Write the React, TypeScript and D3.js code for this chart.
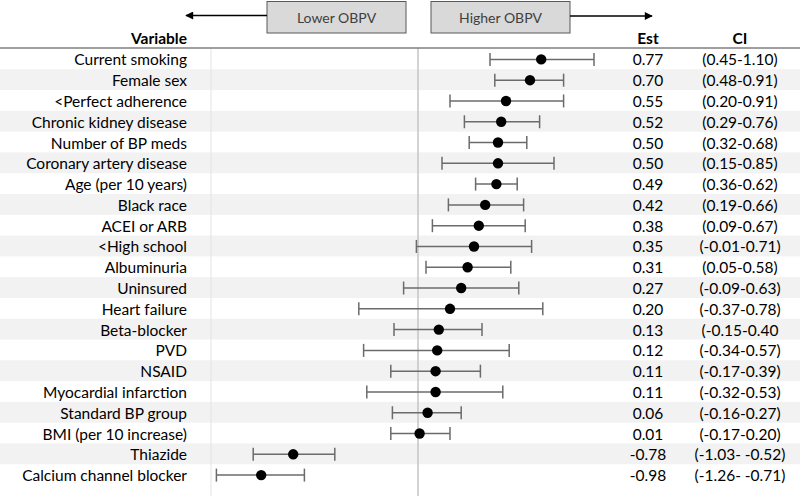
import React from "react";
import * as d3 from "d3";

const variables = [
  "Current smoking", "Female sex", "<Perfect adherence", "Chronic kidney disease",
  "Number of BP meds", "Coronary artery disease", "Age (per 10 years)", "Black race",
  "ACEI or ARB", "<High school", "Albuminuria", "Uninsured", "Heart failure",
  "Beta-blocker", "PVD", "NSAID", "Myocardial infarction", "Standard BP group",
  "BMI (per 10 increase)", "Thiazide", "Calcium channel blocker",
];
const estimates = [0.77, 0.70, 0.55, 0.52, 0.50, 0.50, 0.49, 0.42, 0.38, 0.35, 0.31, 0.27, 0.20, 0.13, 0.12, 0.11, 0.11, 0.06, 0.01, -0.78, -0.98];
const lower = [0.45, 0.48, 0.20, 0.29, 0.32, 0.15, 0.36, 0.19, 0.09, -0.01, 0.05, -0.09, -0.37, -0.15, -0.34, -0.17, -0.32, -0.16, -0.17, -1.03, -1.26];
const upper = [1.10, 0.91, 0.91, 0.76, 0.68, 0.85, 0.62, 0.66, 0.67, 0.71, 0.58, 0.63, 0.78, 0.40, 0.57, 0.39, 0.53, 0.27, 0.20, -0.52, -0.71];
const estLabels = ["0.77", "0.70", "0.55", "0.52", "0.50", "0.50", "0.49", "0.42", "0.38", "0.35", "0.31", "0.27", "0.20", "0.13", "0.12", "0.11", "0.11", "0.06", "0.01", "-0.78", "-0.98"];
const ciLabels = [
  "(0.45-1.10)", "(0.48-0.91)", "(0.20-0.91)", "(0.29-0.76)", "(0.32-0.68)", "(0.15-0.85)",
  "(0.36-0.62)", "(0.19-0.66)", "(0.09-0.67)", "(-0.01-0.71)", "(0.05-0.58)", "(-0.09-0.63)",
  "(-0.37-0.78)", "(-0.15-0.40", "(-0.34-0.57)", "(-0.17-0.39)", "(-0.32-0.53)", "(-0.16-0.27)",
  "(-0.17-0.20)", "(-1.03- -0.52)", "(-1.26- -0.71)",
];
const headers = ["Variable", "Est", "CI"];
const directionLabels = ["Lower OBPV", "Higher OBPV"];

const W = 800;
const H = 496;
const FONT = "Lato, 'Open Sans', sans-serif";
const FS = 15.5;

export default function App() {
  const x = d3.scaleLinear().domain([0, 1]).range([418, 578]);
  const y = d3.scaleBand<number>().domain(d3.range(variables.length)).range([48.5, 485]).padding(0);
  const bw = y.bandwidth();
  const capH = 6.5;
  const labelX = 187;
  const estX = 648;
  const ciX = 740;

  return (
    <svg width={W} height={H} style={{ position: "absolute", left: 0, top: 0, background: "#fff" }} fontFamily={FONT}>
      <defs>
        <marker id="ah" viewBox="0 0 10 10" refX="9" refY="5" markerWidth="9" markerHeight="8" markerUnits="userSpaceOnUse" orient="auto">
          <path d="M0,0 L10,5 L0,10 Z" fill="#000" />
        </marker>
      </defs>
      {/* row shading */}
      {variables.map((_, i) =>
        i % 2 === 1 ? <rect key={"bg" + i} x={0} y={y(i)} width={W} height={bw} fill="#f2f2f2" /> : null
      )}
      {/* dividers */}
      <line x1={211} x2={211} y1={48} y2={H} stroke="#e3e3e3" strokeWidth={1} />
      <line x1={x(0)} x2={x(0)} y1={48} y2={H} stroke="#c4c4c4" strokeWidth={1.5} />
      <line x1={0} x2={W} y1={48} y2={48} stroke="#7f7f7f" strokeWidth={1.5} />

      {/* direction boxes */}
      <rect x={267} y={1.5} width={139} height={31.5} fill="#d9d9d9" stroke="#595959" strokeWidth={1} />
      <text x={336.5} y={17.5} textAnchor="middle" dominantBaseline="central" fontSize={14} fill="#404040">{directionLabels[0]}</text>
      <line x1={267} x2={186} y1={15.5} y2={15.5} stroke="#000" strokeWidth={1.3} markerEnd="url(#ah)" />
      <rect x={431} y={1.5} width={139} height={31.5} fill="#d9d9d9" stroke="#595959" strokeWidth={1} />
      <text x={500.5} y={17.5} textAnchor="middle" dominantBaseline="central" fontSize={14} fill="#404040">{directionLabels[1]}</text>
      <line x1={570} x2={652} y1={16} y2={16} stroke="#000" strokeWidth={1.3} markerEnd="url(#ah)" />

      {/* headers */}
      <text x={labelX} y={38} textAnchor="end" dominantBaseline="central" fontSize={FS} fontWeight="bold" fill="#000">{headers[0]}</text>
      <text x={estX} y={38} textAnchor="middle" dominantBaseline="central" fontSize={FS} fontWeight="bold" fill="#000">{headers[1]}</text>
      <text x={ciX} y={38} textAnchor="middle" dominantBaseline="central" fontSize={FS} fontWeight="bold" fill="#000">{headers[2]}</text>

      {variables.map((v, i) => {
        const cy = (y(i) as number) + bw / 2 + 0.5;
        return (
          <g key={v}>
            <text x={labelX} y={cy} textAnchor="end" dominantBaseline="central" fontSize={FS} fill="#000">{v}</text>
            <line x1={x(lower[i])} x2={x(upper[i])} y1={cy} y2={cy} stroke="#6b6b6b" strokeWidth={1.5} />
            <line x1={x(lower[i])} x2={x(lower[i])} y1={cy - capH} y2={cy + capH} stroke="#6b6b6b" strokeWidth={1.5} />
            <line x1={x(upper[i])} x2={x(upper[i])} y1={cy - capH} y2={cy + capH} stroke="#6b6b6b" strokeWidth={1.5} />
            <circle cx={x(estimates[i])} cy={cy} r={5.2} fill="#000" />
            <text x={estX} y={cy} textAnchor="middle" dominantBaseline="central" fontSize={FS} fill="#000">{estLabels[i]}</text>
            <text x={ciX} y={cy} textAnchor="middle" dominantBaseline="central" fontSize={FS} fill="#000">{ciLabels[i]}</text>
          </g>
        );
      })}
    </svg>
  );
}
